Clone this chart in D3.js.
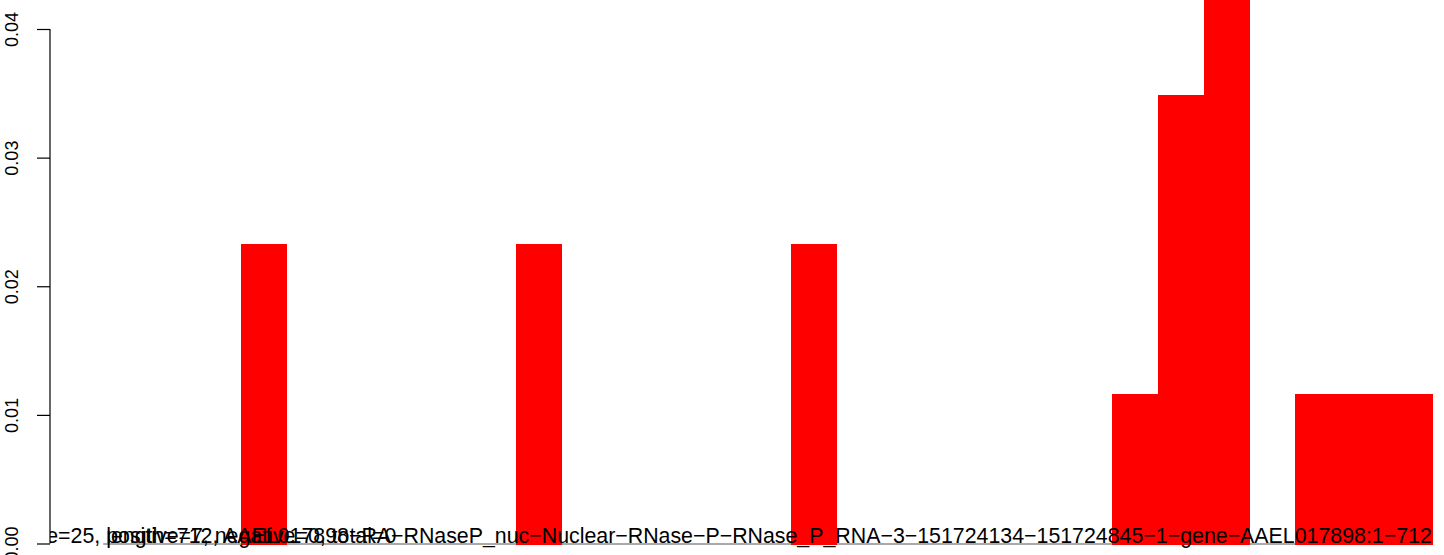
<!DOCTYPE html>
<html>
<head>
<meta charset="utf-8">
<script src="https://cdn.jsdelivr.net/npm/d3@7"></script>
<style>
  html, body { margin: 0; padding: 0; background: #fff; }
  svg { display: block; font-family: "Liberation Sans", Arial, Helvetica, sans-serif; }
</style>
</head>
<body>
<svg id="chart" width="1444" height="555"></svg>
<script>
// ---- data ----
const binStart = [0, 6, 12, 19, 20, 21, 23, 24, 25];      // bin left edges (bin width 1)
const density  = [0.02326, 0.02326, 0.02326, 0.01163, 0.03488, 0.04651, 0.01163, 0.01163, 0.01163];
const histRange = [-3, 26];                                 // full histogram bin range (empty bins drawn as baseline)
const yTicks = [0, 0.01, 0.02, 0.03, 0.04];
const yTickLabels = ["0.00", "0.01", "0.02", "0.03", "0.04"];
const titleText = "length=712, AAEL017898\u2212RA\u2212RNaseP_nuc\u2212Nuclear\u2212RNase\u2212P\u2212RNase_P_RNA\u22123\u2212151724134\u2212151724845\u22121\u2212gene\u2212AAEL017898:1\u2212712";
const statPrefix = "size=25, ";
const statText = "positive=7, negative=0, total=0";

// ---- layout ----
const svg = d3.select("#chart");
const plotLeft = 50, plotRight = 1486;
const pad = (histRange[1] - histRange[0]) * 0.04;
const x = d3.scaleLinear().domain([histRange[0] - pad, histRange[1] + pad]).range([plotLeft, plotRight]);
const y = d3.scaleLinear().domain([0, 0.04]).range([543.5, 29]);

svg.append("clipPath").attr("id", "plotclip")
  .append("rect").attr("x", plotLeft).attr("y", -50).attr("width", plotRight - plotLeft).attr("height", 700);

// baseline of empty bins
svg.append("line")
  .attr("x1", x(histRange[0])).attr("x2", x(histRange[1]))
  .attr("y1", y(0) + 0.5).attr("y2", y(0) + 0.5)
  .attr("stroke", "#555").attr("stroke-width", 1);

// bars
svg.append("g").attr("shape-rendering", "crispEdges")
  .selectAll("rect").data(binStart).join("rect")
  .attr("x", d => x(d))
  .attr("width", d => x(d + 1) - x(d) + 0.5)
  .attr("y", (d, i) => y(density[i]))
  .attr("height", (d, i) => y(0) + 1 - y(density[i]))
  .attr("fill", "#ff0000");

// y axis
const axis = d3.axisLeft(y).tickValues(yTicks).tickFormat((d, i) => yTickLabels[i]).tickSize(13).tickPadding(0);
const ga = svg.append("g").attr("transform", `translate(${plotLeft},0)`).call(axis);
ga.select(".domain").attr("d", `M0,${y(0.04)}V${y(0)}`).attr("stroke", "#000").attr("stroke-width", 1.2);
ga.selectAll(".tick line").attr("stroke", "#000").attr("stroke-width", 1.2);
ga.selectAll(".tick text")
  .attr("font-size", 18)
  .attr("fill", "#000")
  .attr("text-anchor", "middle")
  .attr("dy", 0)
  .attr("x", 0)
  .attr("transform", `translate(${18 - plotLeft},0) rotate(-90)`);

// bottom texts (clipped to plot region)
const fs = 21.35;
const tg = svg.append("g").attr("clip-path", "url(#plotclip)");
tg.append("text")
  .attr("x", (plotLeft + plotRight) / 2 + 1).attr("y", 543)
  .attr("text-anchor", "middle").attr("font-size", fs).attr("fill", "#000")
  .text(titleText);
const tmp = tg.append("text").attr("font-size", fs).attr("xml:space", "preserve").text(statPrefix);
const pw = tmp.node().getComputedTextLength();
tmp.remove();
tg.append("text")
  .attr("x", x(histRange[0]) + 3 - pw).attr("y", 543)
  .attr("text-anchor", "start").attr("font-size", fs).attr("fill", "#000")
  .attr("xml:space", "preserve")
  .text(statPrefix + statText);
</script>
</body>
</html>
